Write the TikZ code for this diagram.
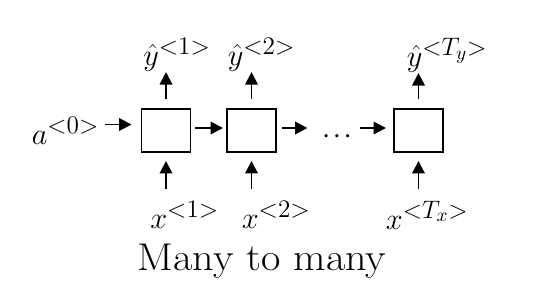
\documentclass[tikz,border=0pt]{standalone}
\usepackage{tikz}
\usetikzlibrary{arrows.meta,positioning,calc}
\DeclareMathSizes{17}{17}{13.5}{10.5}

\begin{document}
\begin{tikzpicture}[node distance=1.71cm, every node/.style={align=center}]
        % 定义节点样式
        \tikzstyle{cell} = [rectangle, minimum width=0.98cm, minimum height=0.86cm, draw=black, line width=1.1pt]
        \tikzstyle{lbl} = [inner sep=0pt, font=\fontsize{17}{20}\selectfont]
        \tikzstyle{arrow} = [line width=1.1pt, -{Triangle[length=2.5mm,width=2.5mm]}]
        \useasboundingbox (0,0) rectangle (10.96,-6);

        % 创建节点
        \node (cell1) [cell] at (3.32,-2.61) {};
        \node (cell2) [cell, right of=cell1] {};
        \node (cell3) [cell, right of=cell2, xshift=1.63cm] {};
        \node (dots) [inner sep=0pt, right of=cell2, yshift=-0.13cm, font=\fontsize{13}{15}\selectfont\boldmath] {$\cdots$};
        \node (a0) [lbl, left=0.82cm of cell1] {$a^{<0>}$};
        \node (y1) [lbl, above=0.72cm of cell1.north, anchor=south west, xshift=-0.46cm] {$\hat{y}^{<1>}$};
        \node (y2) [lbl, above=0.72cm of cell2.north, anchor=south west, xshift=-0.48cm] {$\hat{y}^{<2>}$};
        \node (y3) [lbl, above=0.7cm of cell3.north, anchor=south west, xshift=-0.24cm] {$\hat{y}^{<T_y>}$};
        \node (x1) [lbl, below=0.95cm of cell1.south, anchor=north west, xshift=-0.32cm] {$x^{<1>}$};
        \node (x2) [lbl, below=0.95cm of cell2.south, anchor=north west, xshift=-0.2cm] {$x^{<2>}$};
        \node (x3) [lbl, below=0.95cm of cell3.south, anchor=north west, xshift=-0.66cm] {$x^{<T_x>}$};
        \node (title) [font=\fontsize{22}{26}\selectfont] at (5.24,-5.22) {\scalebox{1.09}[1]{Many to many}};

        % 连接节点
        \draw [arrow, shorten <=0.1cm, shorten >=0.18cm] ([yshift=0.12cm]a0.east) -- ([yshift=0.12cm]cell1.west);
        \draw [arrow, shorten <=0.08cm, shorten >=0.06cm] ([yshift=0.05cm]cell1.east) -- ([yshift=0.05cm]cell2.west);
        \draw [arrow, shorten <=0.1cm, shorten >=0.3cm] ([yshift=0.05cm]cell2.east) -- ([yshift=0.05cm]cell2.east -| dots.west);
        \draw [arrow, shorten <=0.18cm, shorten >=0.14cm] ([yshift=0.05cm]cell3.west -| dots.east) -- ([yshift=0.05cm]cell3.west);
        \draw [arrow, shorten <=0.18cm] (cell1.north) -- (cell1.north |- y1.south);
        \draw [arrow, shorten <=0.18cm] (cell2.north) -- (cell2.north |- y2.south);
        \draw [arrow, shorten <=0.18cm] (cell3.north) -- (cell3.north |- y3.south);
        \draw [arrow, shorten <=0.22cm, shorten >=0.16cm] (cell1.south |- x1.north) -- (cell1.south);
        \draw [arrow, shorten <=0.22cm, shorten >=0.16cm] (cell2.south |- x2.north) -- (cell2.south);
        \draw [arrow, shorten <=0.22cm, shorten >=0.16cm] (cell3.south |- x3.north) -- (cell3.south);
\end{tikzpicture}
\end{document}
